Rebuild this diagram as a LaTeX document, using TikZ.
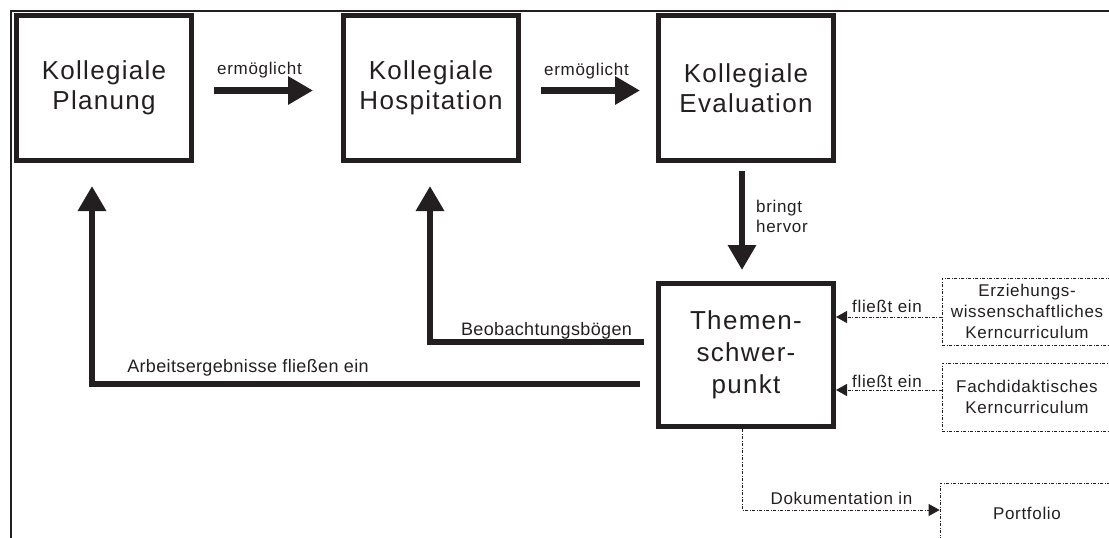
\documentclass[tikz,border=0pt]{standalone}
\usepackage{fontspec}
\setmainfont{Liberation Sans}
\newfontfamily\bigf[LetterSpace=5]{Liberation Sans}
\newfontfamily\smf[LetterSpace=4]{Liberation Sans}
\newfontfamily\midf[LetterSpace=2]{Liberation Sans}
\usetikzlibrary{arrows.meta,calc}
\definecolor{txt}{RGB}{35,31,32}
\begin{document}
\begin{tikzpicture}[x=1pt,y=-1pt,
  box/.style={draw=txt, line width=5pt, minimum width=175pt, minimum height=145pt,
    inner sep=0pt, align=center, text=txt, font={\bigf\fontsize{26pt}{30pt}\selectfont}},
  dbox/.style={draw=txt, line width=0.8pt, dash pattern=on 3pt off 1.5pt on 1pt off 1.5pt,
    inner sep=0pt, align=center, text=txt, font={\smf\fontsize{17pt}{21pt}\selectfont}},
  bigarrow/.style={draw=txt, line width=6.5pt, -{Triangle[length=25pt,width=27pt]}},
  darrow/.style={draw=txt, line width=0.8pt, dash pattern=on 3pt off 1.5pt on 1pt off 1.5pt,
    -{Triangle[length=11pt,width=12pt]}},
  lbl/.style={inner sep=0pt, text=txt, font={\smf\fontsize{17pt}{20pt}\selectfont}},
  mlbl/.style={inner sep=0pt, text=txt, font={\midf\fontsize{18pt}{22pt}\selectfont}}]
\useasboundingbox (0,0) rectangle (1109,538);
\clip (0,0) rectangle (1109,538);
% frame
\draw[txt, line width=2.5pt] (1112,11) -- (11,11) -- (11,541);
% main boxes
\node[box] (b1) at (104,88) {Kollegiale\\Planung};
\node[box] (b2) at (431,88) {Kollegiale\\Hospitation};
\node[box] (b3) at (746,88) {Kollegiale\\Evaluation};
\node[box, minimum height=143pt, font={\bigf\fontsize{26pt}{32pt}\selectfont}] (tm) at (746,355) {Themen-\\schwer-\\punkt};
% dashed boxes
\node[dbox, minimum width=170pt, minimum height=67pt] (ez) at (1027,311.5) {Erziehungs-\\wissenschaftliches\\Kerncurriculum};
\node[dbox, minimum width=170pt, minimum height=68pt] (fd) at (1027,397) {Fachdidaktisches\\Kerncurriculum};
\node[dbox, minimum width=174pt, minimum height=60pt] (pf) at (1027,513) {Portfolio};
% main arrows
\draw[bigarrow] ([shift={(20pt,-2.5pt)}]b1.east) -- ([shift={(-28pt,-2.5pt)}]b2.west);
\draw[bigarrow] ([shift={(20pt,-2.5pt)}]b2.east) -- ([shift={(-16pt,-2.5pt)}]b3.west);
\draw[bigarrow] ([shift={(-4pt,-8pt)}]b3.south) -- ([shift={(-4pt,11pt)}]tm.north);
\draw[bigarrow] ([shift={(-16pt,-29pt)}]tm.west) -| ([shift={(-12pt,-23pt)}]b1.south);
\draw[bigarrow] ([shift={(-12pt,13pt)}]tm.west) -| ([shift={(-1pt,-23pt)}]b2.south);
% dashed arrows
\coordinate (e1) at ([yshift=-5.5pt]ez.west);
\coordinate (f1) at ([yshift=7pt]fd.west);
\coordinate (p1) at ([xshift=-4pt]tm.south);
\draw[darrow] (e1) -- (e1 -| tm.east);
\draw[darrow] (f1) -- (f1 -| tm.east);
\draw[darrow] (p1) |- ([yshift=3pt]pf.west);
% labels
\node[lbl, anchor=base] (l1) at (259.5,74) {ermöglicht};
\node[lbl, anchor=base] (l2) at (586.5,75) {ermöglicht};
\node[lbl, anchor=north west, align=left] (l3) at (756,200) {bringt\\hervor};
\node[lbl, anchor=base] (l4) at (887,312.5) {fließt ein};
\node[lbl, anchor=base] (l5) at (887,387) {fließt ein};
\node[lbl, anchor=base] (l6) at (841.5,504) {Dokumentation in};
\node[mlbl, anchor=base] (l7) at (546.5,335) {Beobachtungsbögen};
\node[mlbl, anchor=base] (l8) at (248,372) {Arbeitsergebnisse fließen ein};
\end{tikzpicture}
\end{document}
